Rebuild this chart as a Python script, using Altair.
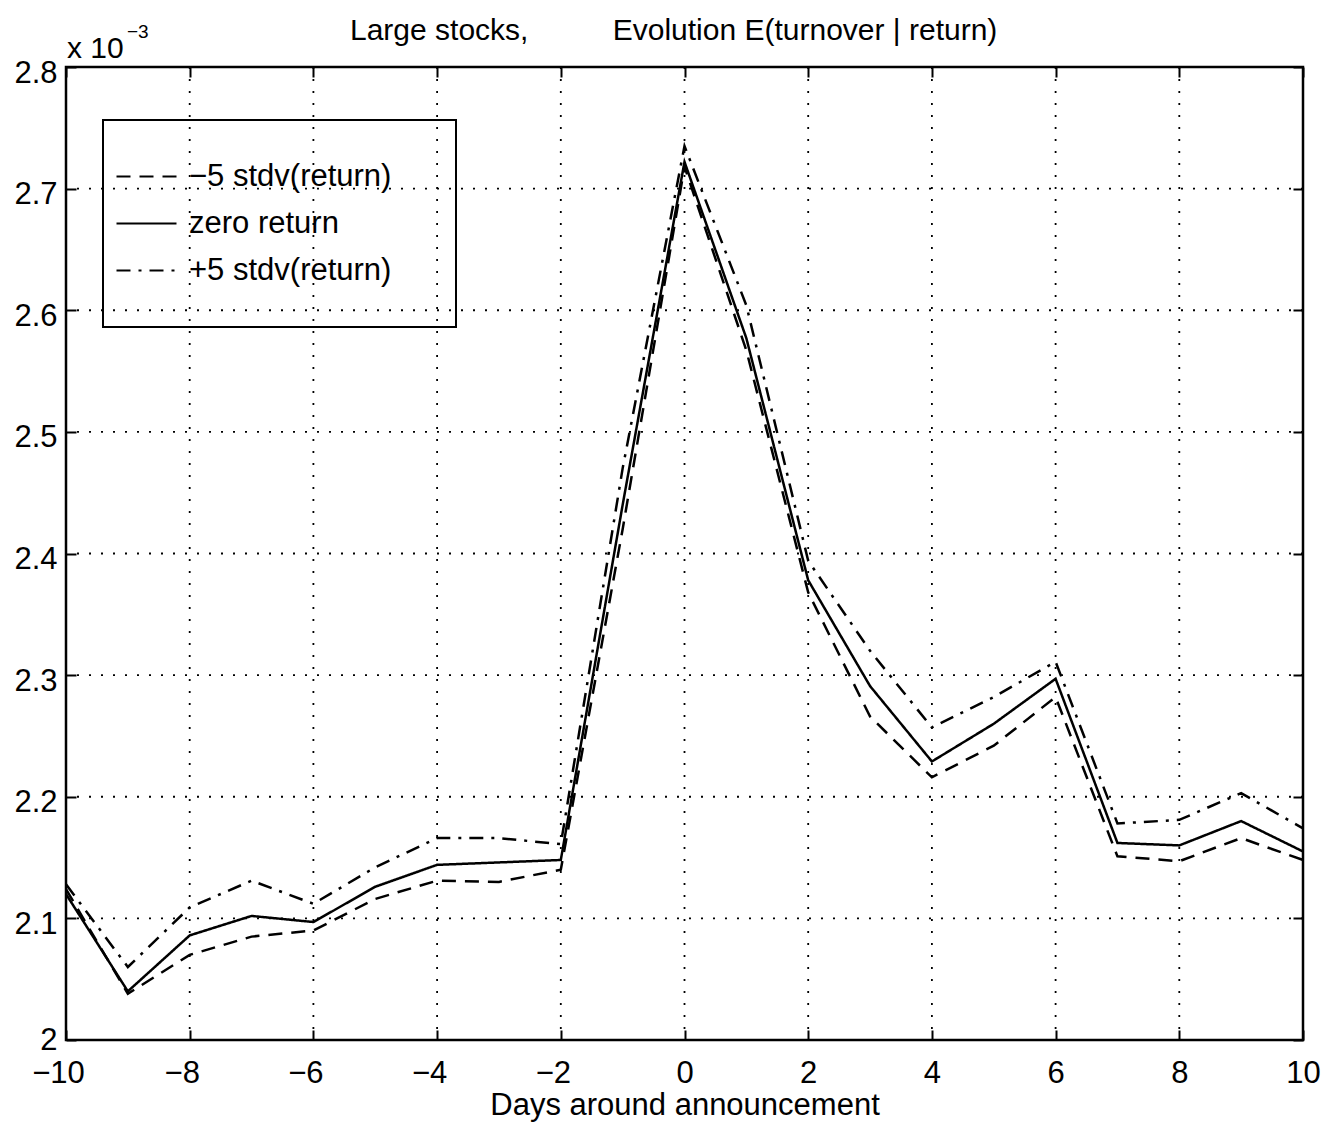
import altair as alt
import pandas as pd

days = list(range(-10, 11))
minus5 = [2.124, 2.038, 2.070, 2.085, 2.090, 2.116, 2.131, 2.130, 2.140, 2.420, 2.718,
          2.567, 2.368, 2.266, 2.216, 2.242, 2.282, 2.151, 2.147, 2.166, 2.148]
zero = [2.120, 2.040, 2.086, 2.102, 2.097, 2.126, 2.144, 2.146, 2.148, 2.440, 2.722,
        2.577, 2.378, 2.291, 2.229, 2.260, 2.297, 2.162, 2.160, 2.180, 2.155]
plus5 = [2.128, 2.060, 2.109, 2.131, 2.112, 2.142, 2.166, 2.166, 2.161, 2.470, 2.735,
         2.604, 2.394, 2.320, 2.257, 2.282, 2.311, 2.178, 2.181, 2.203, 2.174]
series_names = ["\u22125 stdv(return)", "zero return", "+5 stdv(return)"]
xticks = [-10, -8, -6, -4, -2, 0, 2, 4, 6, 8, 10]
yticks = [2.0, 2.1, 2.2, 2.3, 2.4, 2.5, 2.6, 2.7, 2.8]
title_left = "Large stocks,"
title_right = "Evolution E(turnover | return)"

rows = []
for name, vals in zip(series_names, [minus5, zero, plus5]):
    for d, v in zip(days, vals):
        rows.append({"day": d, "val": v, "series": name})
df = pd.DataFrame(rows)

W, H = 1237, 973
FONT = "Liberation Sans"

xscale = alt.Scale(domain=[-10, 10], nice=False, zero=False)
yscale = alt.Scale(domain=[2.0, 2.8], nice=False, zero=False)

# vertical grid + top ticks
vgrid = alt.Chart(pd.DataFrame({"day": xticks[1:-1]})).mark_rule(
    color="black", strokeDash=[2, 10], strokeWidth=1.8
).encode(
    x=alt.X("day:Q", scale=xscale,
            axis=alt.Axis(orient="top", values=xticks, labels=False, title=None,
                          domain=False, ticks=True, tickSize=10, offset=-10,
                          tickColor="black", tickWidth=2, grid=False))
)
# horizontal grid + right ticks
hgrid = alt.Chart(pd.DataFrame({"val": yticks[1:-1]})).mark_rule(
    color="black", strokeDash=[2, 10], strokeWidth=1.8
).encode(
    y=alt.Y("val:Q", scale=yscale,
            axis=alt.Axis(orient="right", values=yticks, labels=False, title=None,
                          domain=False, ticks=True, tickSize=10, offset=-10,
                          tickColor="black", tickWidth=2, grid=False))
)

lines = alt.Chart(df).mark_line(color="black", strokeWidth=2.5).encode(
    x=alt.X("day:Q", scale=xscale,
            axis=alt.Axis(orient="bottom", values=xticks, title="Days around announcement",
                          domain=False, tickSize=10, offset=-10, tickColor="black", tickWidth=2,
                          grid=False, labelFontSize=31, labelFont=FONT, labelColor="black",
                          labelPadding=18, labelFlush=False,
                          labelOffset={"condition": {"test": "datum.value < 0", "value": -8},
                                       "value": 0},
                          titleFontSize=31, titleFont=FONT, titleColor="black",
                          titleFontWeight="normal", titlePadding=2)),
    y=alt.Y("val:Q", scale=yscale,
            axis=alt.Axis(orient="left", values=yticks, title=None, format="~g",
                          domain=False, tickSize=10, offset=-10, tickColor="black", tickWidth=2,
                          grid=False, labelFontSize=31, labelFont=FONT, labelColor="black",
                          labelPadding=9, labelFlush=False,
                          labelOffset={"condition": {"test": "datum.value < 2.05", "value": 0},
                                       "value": 6})),
    strokeDash=alt.StrokeDash(
        "series:N",
        scale=alt.Scale(domain=series_names, range=[[14, 9], [1, 0], [14, 8, 3, 8]]),
        legend=alt.Legend(orient="none", legendX=49, legendY=78, title=None,
                          labelFontSize=31, labelFont=FONT, labelColor="black", labelLimit=500,
                          symbolType="stroke", symbolSize=3600, symbolStrokeWidth=2.2,
                          symbolStrokeColor="black", rowPadding=0, labelOffset=11,
                          padding=0)),
    detail="series:N",
)

legend_box = alt.Chart(pd.DataFrame({"a": [0]})).mark_rect(
    fillOpacity=0, stroke="black", strokeWidth=2
).encode(x=alt.value(37), x2=alt.value(390), y=alt.value(53), y2=alt.value(260))

frame = alt.Chart(pd.DataFrame({"a": [0]})).mark_rect(
    fillOpacity=0, stroke="black", strokeWidth=2.5
).encode(x=alt.value(0), x2=alt.value(W), y=alt.value(0), y2=alt.value(H))

mult = alt.Chart(pd.DataFrame({"t": ["x 10"]})).mark_text(
    align="left", baseline="alphabetic", fontSize=30, font=FONT, color="black"
).encode(x=alt.value(1), y=alt.value(-9), text="t:N")
expo = alt.Chart(pd.DataFrame({"t": ["\u22123"]})).mark_text(
    align="left", baseline="alphabetic", fontSize=19, font=FONT, color="black"
).encode(x=alt.value(61), y=alt.value(-29), text="t:N")
tleft = alt.Chart(pd.DataFrame({"t": [title_left]})).mark_text(
    align="left", baseline="alphabetic", fontSize=30, font=FONT, color="black"
).encode(x=alt.value(350 - 66), y=alt.value(-27), text="t:N")
tright = alt.Chart(pd.DataFrame({"t": [title_right]})).mark_text(
    align="center", baseline="alphabetic", fontSize=30, font=FONT, color="black"
).encode(x=alt.value(805 - 66), y=alt.value(-27), text="t:N")

chart = alt.layer(vgrid, hgrid, lines, legend_box, frame, mult, expo, tleft, tright).resolve_axis(
    x="independent", y="independent"
).properties(
    width=W, height=H,
    background="white",
    autosize=alt.AutoSizeParams(type="none"),
    padding={"left": 66, "top": 67, "right": 22, "bottom": 85},
).configure_view(stroke=None)

chart.save("out.html", embed_options={"renderer": "svg", "actions": False})
